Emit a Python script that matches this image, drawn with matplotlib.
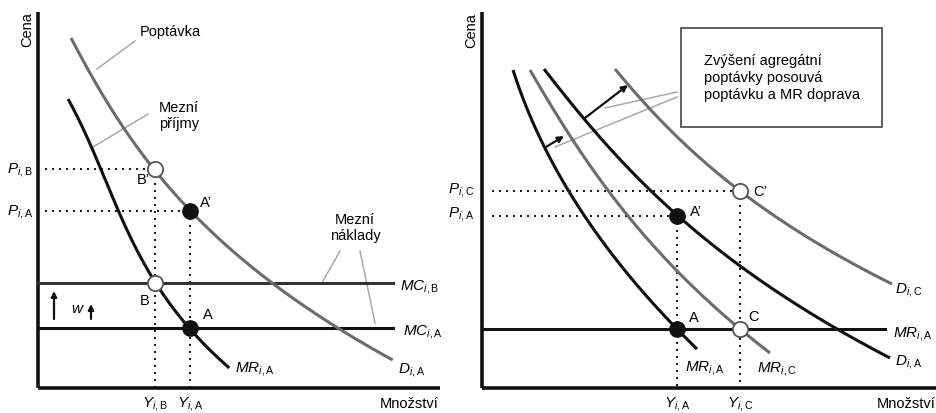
'''
Agregatni poptavka a mezni naklady - dva grafy
'''
import numpy as np
import matplotlib
matplotlib.use('Agg')
import matplotlib.pyplot as plt
from matplotlib.patches import Rectangle

plt.rcParams['font.family'] = ['Liberation Sans', 'DejaVu Sans']
plt.rcParams['mathtext.fontset'] = 'custom'
plt.rcParams['mathtext.rm'] = 'Liberation Sans'
plt.rcParams['mathtext.it'] = 'Liberation Sans:italic'

# body krivek (x, y) odectene z obrazku, y roste smerem dolu
d_left = [(71, 39), (154, 170), (190, 212), (273, 284), (337, 329), (393, 361)]
mr_left = [(68, 100), (101, 170), (155, 284), (190, 329), (229, 369)]
mr_a_right = [(513, 71), (578, 207), (677, 330), (697, 350)]
mr_c_right = [(530, 71), (620, 207), (740, 330), (770, 354)]
d_a_right = [(544, 70), (667, 207), (837, 330), (890, 359)]
d_c_right = [(615, 70), (740, 192), (827, 250), (892, 285)]

# ceny a mnozstvi
mc_levels = [284, 329]          # MC_B, MC_A
p_left = [170, 212]             # P_B, P_A
y_left = [155, 190]             # Y_B, Y_A
mr_level_right = 330
p_right = [192, 217]            # P_C, P_A
y_right = [740, 677]            # Y_C, Y_A

black = '#111111'
gray = '#6c6c6c'
light = '#a8a8a8'
lw = 2.2

fig = plt.figure(figsize=(9.37, 4.14), dpi=100)
ax = fig.add_axes([0, 0, 1, 1])
ax.set_xlim(0, 937)
ax.set_ylim(414, 0)
ax.axis('off')


def curve(pts, color):
    pts = np.array(pts, dtype=float)
    deg = min(3, len(pts) - 1)
    c = np.polyfit(pts[:, 1], pts[:, 0], deg)
    yy = np.linspace(pts[0, 1], pts[-1, 1], 200)
    ax.plot(np.polyval(c, yy), yy, color=color, lw=lw, solid_capstyle='butt', zorder=3)


def dots(xs, ys):
    ax.plot(xs, ys, color=black, lw=1.4, ls=(0, (1, 2.6)), zorder=2)


def marker(x, y, filled):
    if filled:
        ax.plot(x, y, 'o', ms=11, mfc=black, mec=black, zorder=5)
    else:
        ax.plot(x, y, 'o', ms=11, mfc='white', mec='#555555', mew=1.3, zorder=5)


def leader(x0, y0, x1, y1):
    ax.plot([x0, x1], [y0, y1], color=light, lw=1.1, zorder=1)


def arrow(x0, y0, x1, y1, scale=9):
    ax.annotate('', xy=(x1, y1), xytext=(x0, y0),
                arrowprops=dict(arrowstyle='-|>', color=black, lw=1.6,
                                mutation_scale=scale, shrinkA=0, shrinkB=0))


# ---------------- levy graf ----------------
ax.plot([38, 38], [13, 389], color=black, lw=2.6, solid_capstyle='butt')
ax.plot([38, 440], [389, 389], color=black, lw=2.6, solid_capstyle='butt')

ax.plot([38, 393], [mc_levels[0], mc_levels[0]], color='#333333', lw=lw, zorder=3)
ax.plot([38, 393], [mc_levels[1], mc_levels[1]], color=black, lw=lw, zorder=3)

curve(d_left, gray)
curve(mr_left, black)

dots([45, y_left[0]], [p_left[0], p_left[0]])
dots([45, y_left[1]], [p_left[1], p_left[1]])
dots([y_left[0], y_left[0]], [p_left[0], 389])
dots([y_left[1], y_left[1]], [p_left[1], 389])

marker(y_left[0], p_left[0], False)
marker(y_left[1], p_left[1], True)
marker(y_left[0], mc_levels[0], False)
marker(y_left[1], mc_levels[1], True)

leader(135, 42, 97, 70)
leader(148, 115, 93, 148)
leader(340, 252, 323, 282)
leader(360, 252, 375, 324)

fs = 10.5
ms = 11
ax.text(27, 30, 'Cena', rotation=90, ha='center', va='center', fontsize=fs)
ax.text(140, 32, 'Poptávka', ha='left', va='center', fontsize=fs)
ax.text(179, 116, 'Mezní\npříjmy', ha='center', va='center', fontsize=fs, linespacing=1.15)
ax.text(355, 228, 'Mezní\nnáklady', ha='center', va='center', fontsize=fs, linespacing=1.15)
ax.text(20, 170, r'$P_{i,\mathrm{B}}$', ha='center', va='center', fontsize=ms)
ax.text(20, 212, r'$P_{i,\mathrm{A}}$', ha='center', va='center', fontsize=ms)
ax.text(143, 180, 'B’', ha='center', va='center', fontsize=fs)
ax.text(200, 203, 'A’', ha='left', va='center', fontsize=fs)
ax.text(145, 301, 'B', ha='center', va='center', fontsize=fs)
ax.text(208, 315, 'A', ha='center', va='center', fontsize=fs)
ax.text(78, 309, r'$w$', ha='center', va='center', fontsize=ms)
arrow(91, 320, 91, 305, scale=8)
arrow(54, 320, 54, 292, scale=8)
ax.text(235, 369, r'$MR_{i,\mathrm{A}}$', ha='left', va='center', fontsize=ms)
ax.text(400, 287, r'$MC_{i,\mathrm{B}}$', ha='left', va='center', fontsize=ms)
ax.text(403, 332, r'$MC_{i,\mathrm{A}}$', ha='left', va='center', fontsize=ms)
ax.text(398, 370, r'$D_{i,\mathrm{A}}$', ha='left', va='center', fontsize=ms)
ax.text(155, 404, r'$Y_{i,\mathrm{B}}$', ha='center', va='center', fontsize=ms)
ax.text(190, 404, r'$Y_{i,\mathrm{A}}$', ha='center', va='center', fontsize=ms)
ax.text(409, 404, 'Množství', ha='center', va='center', fontsize=fs)

# ---------------- pravy graf ----------------
ax.plot([482, 482], [13, 389], color=black, lw=2.6, solid_capstyle='butt')
ax.plot([482, 937], [389, 389], color=black, lw=2.6, solid_capstyle='butt')
ax.plot([482, 885], [mr_level_right, mr_level_right], color=black, lw=lw, zorder=3)

curve(mr_a_right, black)
curve(mr_c_right, gray)
curve(d_a_right, black)
curve(d_c_right, gray)

dots([492, y_right[0]], [p_right[0], p_right[0]])
dots([492, y_right[1]], [p_right[1], p_right[1]])
dots([y_right[0], y_right[0]], [p_right[0], 389])
dots([y_right[1], y_right[1]], [p_right[1], 389])

marker(y_right[1], p_right[1], True)
marker(y_right[1], mr_level_right, True)
marker(y_right[0], p_right[0], False)
marker(y_right[0], mr_level_right, False)

ax.add_patch(Rectangle((681, 29), 201, 99, fill=False, ec='#444444', lw=1.2, zorder=4))
ax.text(704, 78, 'Zvýšení agregátní\npoptávky posouvá\npoptávku a MR doprava',
        ha='left', va='center', fontsize=fs, linespacing=1.25)
leader(677, 93, 605, 109)
leader(677, 98, 555, 148)
arrow(546, 148, 564, 137)
arrow(585, 119, 628, 86)

ax.text(471, 31, 'Cena', rotation=90, ha='center', va='center', fontsize=fs)
ax.text(461, 190, r'$P_{i,\mathrm{C}}$', ha='center', va='center', fontsize=ms)
ax.text(461, 214, r'$P_{i,\mathrm{A}}$', ha='center', va='center', fontsize=ms)
ax.text(753, 192, 'C’', ha='left', va='center', fontsize=fs)
ax.text(690, 212, 'A’', ha='left', va='center', fontsize=fs)
ax.text(694, 318, 'A', ha='center', va='center', fontsize=fs)
ax.text(754, 317, 'C', ha='center', va='center', fontsize=fs)
ax.text(685, 368, r'$MR_{i,\mathrm{A}}$', ha='left', va='center', fontsize=ms)
ax.text(757, 369, r'$MR_{i,\mathrm{C}}$', ha='left', va='center', fontsize=ms)
ax.text(895, 290, r'$D_{i,\mathrm{C}}$', ha='left', va='center', fontsize=ms)
ax.text(893, 334, r'$MR_{i,\mathrm{A}}$', ha='left', va='center', fontsize=ms)
ax.text(895, 362, r'$D_{i,\mathrm{A}}$', ha='left', va='center', fontsize=ms)
ax.text(677, 404, r'$Y_{i,\mathrm{A}}$', ha='center', va='center', fontsize=ms)
ax.text(740, 404, r'$Y_{i,\mathrm{C}}$', ha='center', va='center', fontsize=ms)
ax.text(877, 404, 'Množství', ha='left', va='center', fontsize=fs)

fig.savefig('out.png', dpi=100)
